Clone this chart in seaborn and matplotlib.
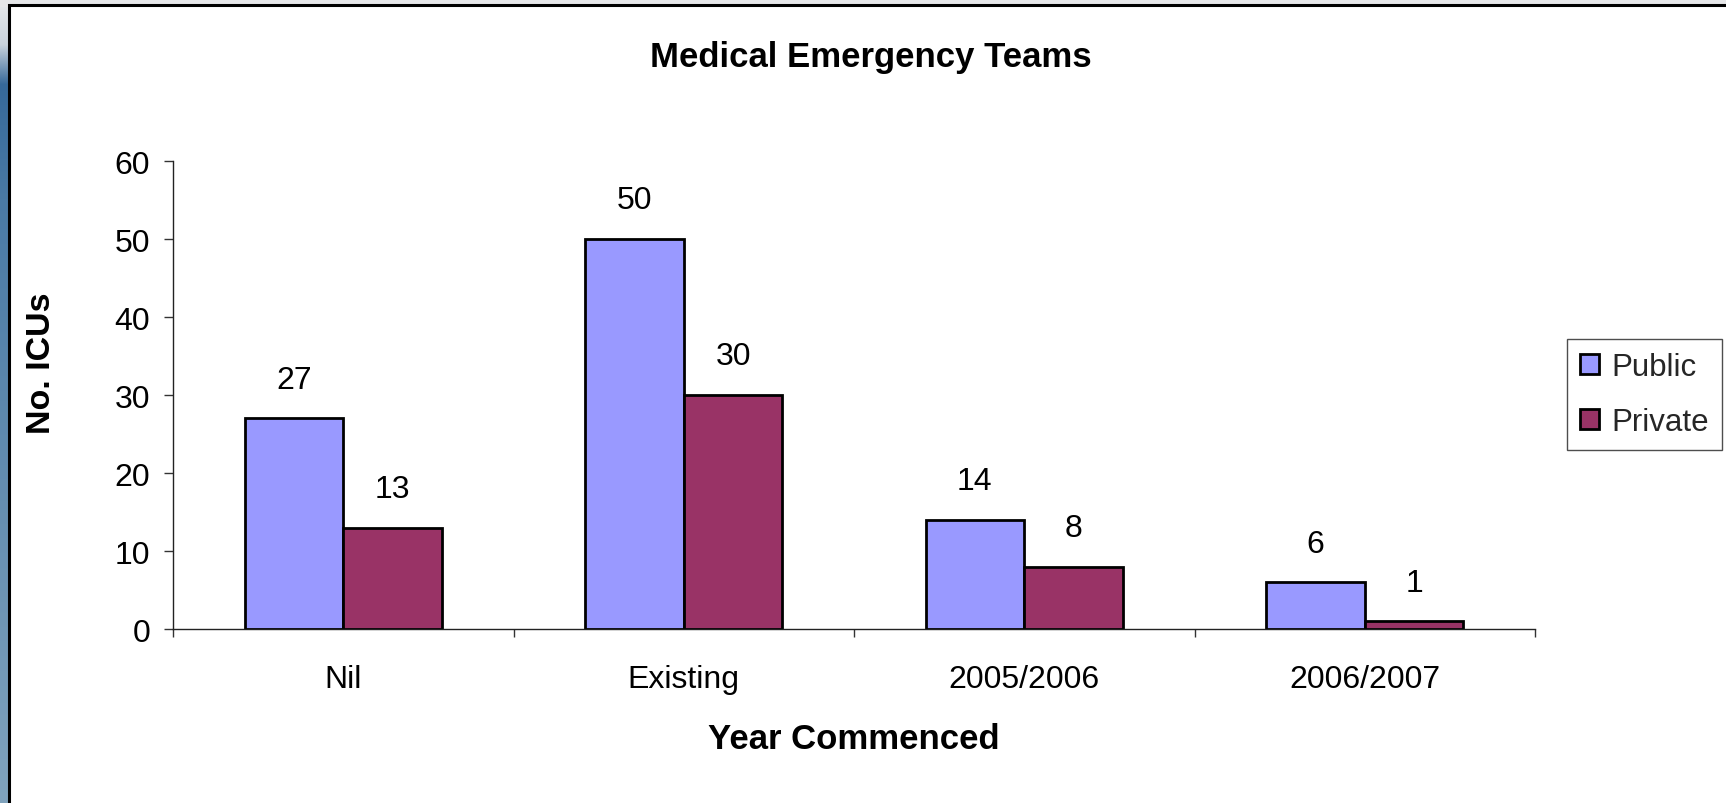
import numpy as np
import pandas as pd
import matplotlib
matplotlib.use("Agg")
import matplotlib.pyplot as plt
from matplotlib.patches import Rectangle
from matplotlib.colors import to_rgb
import seaborn as sns

# Data
categories = ["Nil", "Existing", "2005/2006", "2006/2007"]
public = [27, 50, 14, 6]
private = [13, 30, 8, 1]
series_names = ["Public", "Private"]
series_colors = ["#9999FF", "#993366"]
y_ticks = [0, 10, 20, 30, 40, 50, 60]

df = pd.DataFrame({
    "Year": categories * 2,
    "ICUs": public + private,
    "Sector": [series_names[0]] * len(categories) + [series_names[1]] * len(categories),
})

sns.set_theme(style="white")
plt.rcParams["font.family"] = ["Liberation Sans", "DejaVu Sans"]

W, H = 1726, 804
fig = plt.figure(figsize=(W / 100, H / 100), dpi=100, facecolor="white")

# Slide-style backdrop: grey top band, blue gradient strip on the left, white panel
bg = fig.add_axes([0, 0, 1, 1], zorder=-10)
bg.axis("off")
bg.add_patch(Rectangle((0, 0), W, 8, facecolor="#e6e7e9", edgecolor="none"))
rows = np.arange(H)
keys_y = [0, 45, 85, 200, H]
keys_c = [to_rgb("#e8eaec"), to_rgb("#c9d3dc"), to_rgb("#36699a"), to_rgb("#4a7aa5"), to_rgb("#80a3bd")]
grad = np.stack([np.interp(rows, keys_y, [c[i] for c in keys_c]) for i in range(3)], axis=-1)
bg.imshow(grad[:, None, :], extent=[0, 10, H, 0], aspect="auto", interpolation="bilinear")
bg.set_xlim(0, W)
bg.set_ylim(H, 0)
bg.add_patch(Rectangle((9, 6), W, H, facecolor="white", edgecolor="black", linewidth=2.2))

# Chart axes
ax = fig.add_axes([173 / W, 1 - 630 / H, (1535 - 173) / W, (630 - 162) / H], facecolor="none")
sns.barplot(
    data=df, x="Year", y="ICUs", hue="Sector",
    palette=dict(zip(series_names, series_colors)), saturation=1,
    edgecolor="black", linewidth=2, width=0.58, errorbar=None,
    ax=ax,
)

for cont in ax.containers:
    ax.bar_label(cont, padding=17, fontsize=23, color="black")

ax.set_ylim(0, 60)
ax.set_xlim(-0.5, len(categories) - 0.5)
ax.set_yticks(y_ticks)
ax.set_xticks(range(len(categories)))
ax.set_xticks(np.arange(-0.5, len(categories), 1.0), minor=True)
ax.tick_params(axis="x", which="major", length=0, pad=25, labelsize=23, labelcolor="black")
ax.tick_params(axis="x", which="minor", length=6, width=1, color="#333333", direction="out", bottom=True)
ax.tick_params(axis="y", which="major", length=6.5, width=1, color="#333333", direction="out",
               pad=10, labelsize=23, labelcolor="black", left=True)
for s in ["top", "right"]:
    ax.spines[s].set_visible(False)
for s in ["left", "bottom"]:
    ax.spines[s].set_color("#222222")
    ax.spines[s].set_linewidth(1)

ax.set_xlabel("")
ax.set_ylabel("")
fig.text(854 / W, 1 - 740 / H, "Year Commenced", ha="center", va="center",
         fontsize=25, fontweight="bold", color="black")
fig.text(41 / W, 1 - 363 / H, "No. ICUs", ha="center", va="center", rotation=90,
         fontsize=24.5, fontweight="bold", color="black")
fig.text(871 / W, 1 - 57 / H, "Medical Emergency Teams", ha="center", va="center",
         fontsize=25, fontweight="bold", color="black")

handles, labels = ax.get_legend_handles_labels()
ax.get_legend().remove()
leg = fig.legend(
    handles, labels, loc="upper left", bbox_to_anchor=(1567 / W, 1 - 340 / H),
    fontsize=22.5, frameon=True, fancybox=False, shadow=False,
    handlelength=0.6, handleheight=0.6, handletextpad=0.4,
    labelspacing=0.8, borderpad=0.42, borderaxespad=0,
)
leg.get_frame().set_edgecolor("#222222")
leg.get_frame().set_linewidth(1)
for h in leg.legend_handles:
    h.set_edgecolor("black")
    h.set_linewidth(2)

fig.savefig("out.png", dpi=100, facecolor="white")
